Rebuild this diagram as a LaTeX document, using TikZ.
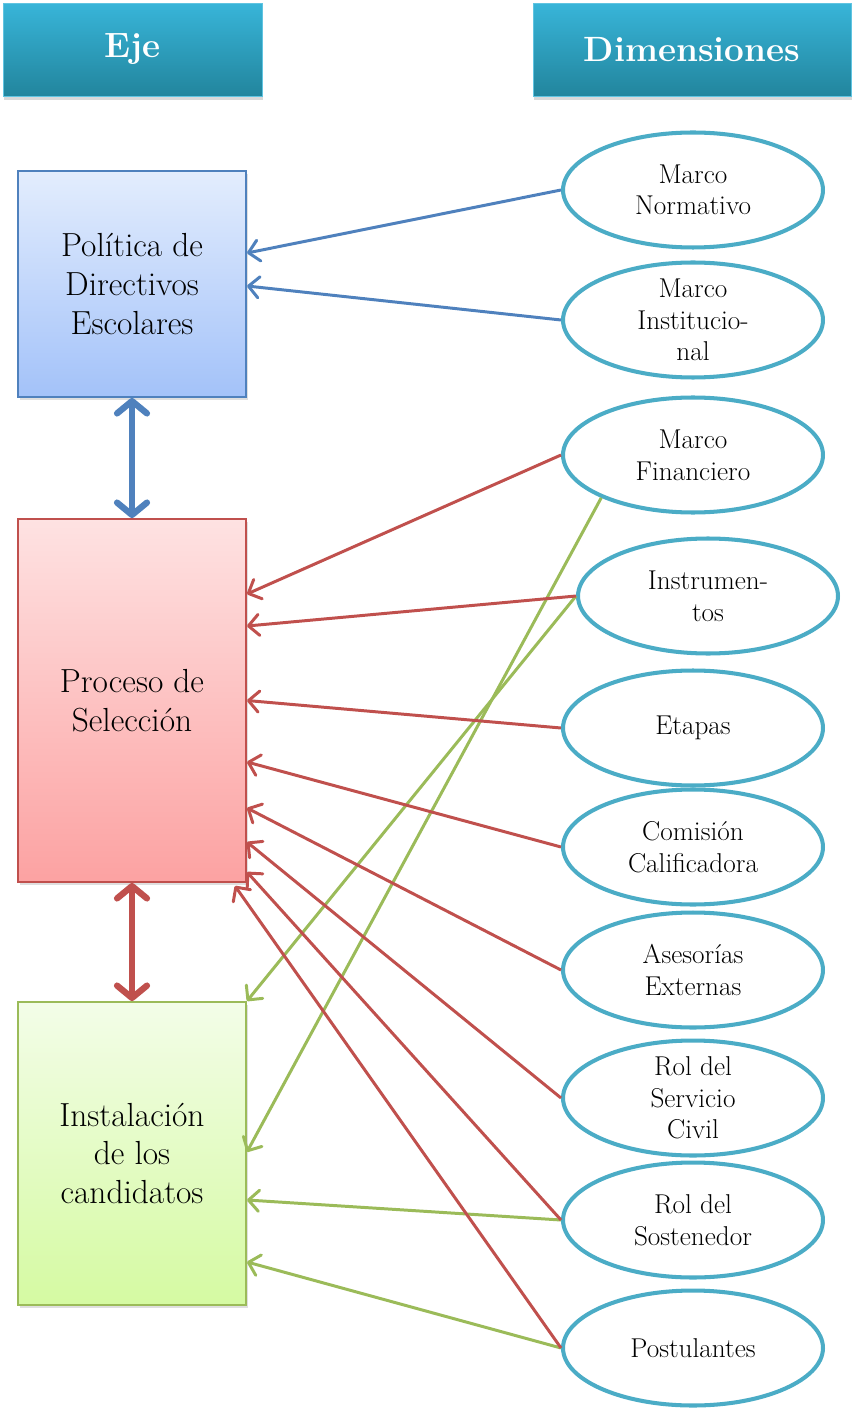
\documentclass[tikz,border=0pt]{standalone}
\usepackage{tikz}
\usetikzlibrary{shapes.geometric, arrows.meta, shadows, positioning}

\definecolor{azul}{HTML}{4F81BD}
\definecolor{rojo}{HTML}{C0504D}
\definecolor{verde}{HTML}{9BBB59}
\definecolor{celeste}{HTML}{4BACC6}
\definecolor{cabarriba}{HTML}{38B5D9}
\definecolor{cababajo}{HTML}{22859D}
\definecolor{azularriba}{HTML}{E3EDFD}
\definecolor{azulabajo}{HTML}{A3C2F9}
\definecolor{rojoarriba}{HTML}{FEE2E2}
\definecolor{rojoabajo}{HTML}{FCA2A2}
\definecolor{verdearriba}{HTML}{F3FDE8}
\definecolor{verdeabajo}{HTML}{D5FAA2}

\tikzset{
    titulo/.style={rectangle, draw=cabarriba!80!white, top color=cabarriba, bottom color=cababajo, minimum height=1.86cm, text=white, font=\fontsize{20}{24}\selectfont\bfseries, drop shadow={shadow xshift=0.4pt, shadow yshift=-2.5pt, opacity=0.3}},
    eje/.style={rectangle, line width=1.1pt, minimum width=4.56cm, align=center, font=\fontsize{19}{22}\selectfont, drop shadow={shadow xshift=1pt, shadow yshift=-1.5pt, opacity=0.25}},
    dim/.style={ellipse, draw=celeste, line width=2.3pt, fill=white, minimum width=5.2cm, minimum height=2.3cm, inner xsep=0pt, inner ysep=-5pt, align=center, font=\fontsize{15.5}{18}\selectfont},
    flecha/.style={line width=1.7pt, -{Straight Barb[length=6pt, width=12pt, round]}},
    doble/.style={line width=3.6pt, {Straight Barb[length=7pt, width=17pt, round]}-{Straight Barb[length=7pt, width=17pt, round]}}
}

\begin{document}
\begin{tikzpicture}[x=0.02cm, y=-0.02cm]
    \useasboundingbox (0,0) rectangle (853,1408);

    % Headers
    \node[titulo, minimum width=5.18cm] (cabeje) at (132.5,49.5) {Eje};
    \node[titulo, minimum width=6.36cm] (cabdim) at (692,49.5) {Dimensiones};

    % Axis boxes on the left
    \node[eje, draw=azul, top color=azularriba, bottom color=azulabajo, minimum height=4.52cm] (politica) at (132,284) {Política de\\Directivos\\Escolares};
    \node[eje, draw=rojo, top color=rojoarriba, bottom color=rojoabajo, minimum height=7.26cm] (proceso) at (132,700.5) {Proceso de\\Selección};
    \node[eje, draw=verde, top color=verdearriba, bottom color=verdeabajo, minimum height=6.06cm] (instalacion) at (132,1153.5) {Instalación\\de los\\candidatos};

    % Dimension ellipses on the right
    \node[dim] (normativo) at (693,190) {Marco\\Normativo};
    \node[dim] (institucional) at (693,320) {Marco\\Institucio-\\nal};
    \node[dim] (financiero) at (693,455) {Marco\\Financiero};
    \node[dim] (instrumentos) at (708,596) {Instrumen-\\tos};
    \node[dim] (etapas) at (693,728) {Etapas};
    \node[dim] (comision) at (693,847) {Comisión\\Calificadora};
    \node[dim] (asesorias) at (693,970) {Asesorías\\Externas};
    \node[dim] (servicio) at (693,1098) {Rol del\\Servicio\\Civil};
    \node[dim] (sostenedor) at (693,1220) {Rol del\\Sostenedor};
    \node[dim] (postulantes) at (693,1348) {Postulantes};

    % Double arrows between the axes
    \draw[doble, azul] (politica.south) -- (proceso.north);
    \draw[doble, rojo] (proceso.south) -- (instalacion.north);

    % Blue connectors
    \draw[flecha, azul] (normativo.west) -- ([yshift=0.62cm]politica.east);
    \draw[flecha, azul] (institucional.west) -- ([yshift=-0.04cm]politica.east);

    % Green connectors
    \draw[flecha, verde] (financiero.205) -- ([yshift=0.03cm]instalacion.east);
    \draw[flecha, verde] (instrumentos.west) -- (instalacion.north east);
    \draw[flecha, verde] (sostenedor.west) -- ([yshift=-0.93cm]instalacion.east);
    \draw[flecha, verde] (postulantes.west) -- ([yshift=-2.17cm]instalacion.east);

    % Red connectors
    \draw[flecha, rojo] (financiero.west) -- ([yshift=2.13cm]proceso.east);
    \draw[flecha, rojo] (instrumentos.west) -- ([yshift=1.49cm]proceso.east);
    \draw[flecha, rojo] (etapas.west) -- (proceso.east);
    \draw[flecha, rojo] (comision.west) -- ([yshift=-1.23cm]proceso.east);
    \draw[flecha, rojo] (asesorias.west) -- ([yshift=-2.15cm]proceso.east);
    \draw[flecha, rojo] (servicio.west) -- ([yshift=-2.83cm]proceso.east);
    \draw[flecha, rojo] (sostenedor.west) -- ([yshift=-3.43cm]proceso.east);
    \draw[flecha, rojo] (postulantes.west) -- ([xshift=-0.24cm, yshift=-0.06cm]proceso.south east);
\end{tikzpicture}
\end{document}
